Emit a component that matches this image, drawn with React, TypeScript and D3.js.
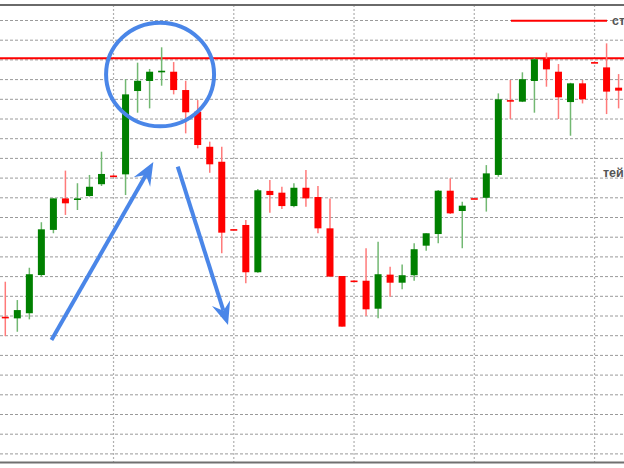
import React from "react";
import * as d3 from "d3";

const W = 624;
const H = 468;

// OHLC values (price points), one candle per index
const opens = [69.6, 68.8, 71.4, 90.8, 113.7, 129.7, 128.9, 130.9, 136.9, 141.3, 141.9, 184.2, 189.3, 193.9, 194.0, 184.7, 173.7, 155.9, 148.3, 114.1, 116.2, 92.2, 133.5, 132.6, 125.8, 135.1, 130.4, 114.5, 90.3, 88.0, 87.9, 73.7, 91.0, 86.9, 90.7, 105.7, 111.6, 133.6, 123.3, 129.8, 130.0, 141.6, 179.6, 178.8, 189.3, 200.5, 194.0, 178.6, 188.1, 198.9, 196.2, 185.9];
const highs = [87.4, 78.1, 94.5, 117.6, 129.7, 143.8, 137.4, 141.6, 153.4, 141.7, 190.2, 198.6, 195.4, 206.4, 198.9, 189.4, 179.6, 158.5, 155.9, 114.2, 118.7, 134.5, 139.0, 135.6, 137.4, 144.1, 136.0, 129.7, 90.3, 88.1, 104.4, 107.7, 95.0, 96.2, 106.9, 112.0, 134.0, 139.9, 128.0, 129.9, 146.6, 183.0, 189.8, 193.7, 200.8, 203.7, 197.9, 188.4, 189.8, 199.1, 208.4, 192.8];
const lows = [59.8, 62.0, 68.3, 89.9, 112.0, 121.3, 123.8, 130.6, 136.0, 140.8, 131.4, 173.2, 175.4, 186.9, 182.5, 162.7, 155.1, 142.7, 101.8, 113.8, 86.6, 92.0, 122.4, 124.3, 125.2, 125.5, 112.0, 89.9, 64.6, 87.7, 70.0, 68.8, 79.8, 83.6, 87.9, 103.1, 106.9, 121.8, 104.4, 129.5, 123.0, 140.7, 170.0, 178.6, 173.2, 186.4, 170.0, 161.5, 177.9, 198.5, 172.5, 175.4];
const closes = [69.1, 73.0, 91.2, 114.0, 129.7, 127.2, 129.7, 135.6, 142.1, 141.1, 182.5, 189.4, 194.0, 194.5, 184.7, 173.4, 156.8, 147.0, 112.3, 113.9, 92.2, 133.8, 131.4, 125.8, 135.1, 129.7, 114.5, 90.0, 64.6, 87.8, 73.4, 91.2, 86.9, 90.7, 103.9, 112.0, 133.6, 122.1, 126.0, 129.6, 142.4, 180.0, 179.0, 190.2, 200.3, 195.2, 181.0, 188.1, 180.0, 198.7, 183.9, 184.4];

const gridLevels = d3.range(0, 221, 10);
const vGridIndices = [9, 19, 29, 39, 49];
const stopLevel = 200.8;
const legendLabels = ["стоп-лосс", "тейк-профит"];

// annotations in data coordinates (candle index, price)
const circleCenter = { i: 12.87, p: 192.6 };
const circleRadius = { i: 4.49, p: 26.3 };
const arrowUp = { from: { i: 3.84, p: 57.8 }, to: { i: 12.31, p: 148.2 } };
const arrowDown = { from: { i: 14.34, p: 145.8 }, to: { i: 18.52, p: 65.4 } };

const x = d3.scaleLinear().domain([0, 51]).range([5.3, 618.6]);
const y = d3.scaleLinear().domain([0, 220]).range([453.9, 20.5]);

const GREEN = "#008000";
const RED = "#ff0000";
const BLUE = "#4a86e8";

function arrowPath(a: { from: { i: number; p: number }; to: { i: number; p: number } }) {
  const x0 = x(a.from.i), y0 = y(a.from.p);
  const x1 = x(a.to.i), y1 = y(a.to.p);
  const dx = x1 - x0, dy = y1 - y0;
  const len = Math.hypot(dx, dy);
  const ux = dx / len, uy = dy / len;
  const nx = -uy, ny = ux;
  const back = 23, half = 9.5, notch = 15;
  const bx = x1 - back * ux, by = y1 - back * uy;
  const head = d3.path();
  head.moveTo(x1, y1);
  head.lineTo(bx + half * nx, by + half * ny);
  head.lineTo(x1 - notch * ux, y1 - notch * uy);
  head.lineTo(bx - half * nx, by - half * ny);
  head.closePath();
  return {
    line: { x1: x0, y1: y0, x2: x1 - notch * ux, y2: y1 - notch * uy },
    head: head.toString(),
  };
}

export default function App() {
  const up = arrowPath(arrowUp);
  const down = arrowPath(arrowDown);
  return (
    <svg
      width={W}
      height={H}
      style={{ position: "fixed", left: 0, top: 0, background: "#fff" }}
      fontFamily="'Liberation Sans', Arial, sans-serif"
    >
      <rect width={W} height={H} fill="#fff" />
      {/* grid */}
      {gridLevels.map((g) => (
        <line key={"h" + g} x1={0} x2={W} y1={y(g)} y2={y(g)} stroke="#9a9a9a" strokeWidth={1} strokeDasharray="3,2" />
      ))}
      {vGridIndices.map((vi) => (
        <line key={"v" + vi} x1={x(vi)} x2={x(vi)} y1={5} y2={463} stroke="#b0b0b0" strokeWidth={1.2} strokeDasharray="2,2" />
      ))}
      {/* frame */}
      <rect x={0} y={4} width={W} height={2} fill="#6a6a6a" />
      <rect x={0} y={461.5} width={W} height={2} fill="#707070" />

      {/* stop line */}
      <line x1={0} x2={W} y1={y(stopLevel)} y2={y(stopLevel)} stroke={RED} strokeWidth={2} />

      {/* candles */}
      {opens.map((o, i) => {
        const c = closes[i];
        const up = c >= o;
        const top = y(Math.max(o, c));
        const bot = y(Math.min(o, c));
        const h = Math.max(1.6, bot - top);
        const cx = x(i);
        return (
          <g key={i}>
            <line x1={cx} x2={cx} y1={y(highs[i])} y2={y(lows[i])} stroke={up ? "#72b872" : "#ff7a7a"} strokeWidth={1.5} />
            <rect x={cx - 3.5} y={top} width={7} height={h} fill={up ? GREEN : RED} />
          </g>
        );
      })}

      {/* annotations */}
      <ellipse
        cx={x(circleCenter.i)}
        cy={y(circleCenter.p)}
        rx={x(circleRadius.i) - x(0)}
        ry={y(0) - y(circleRadius.p)}
        fill="none"
        stroke={BLUE}
        strokeWidth={4}
      />
      <line {...up.line} stroke={BLUE} strokeWidth={4} />
      <path d={up.head} fill={BLUE} />
      <line {...down.line} stroke={BLUE} strokeWidth={4} />
      <path d={down.head} fill={BLUE} />

      {/* legend */}
      <line x1={511} x2={607} y1={20.7} y2={20.7} stroke={RED} strokeWidth={2} />
      <text x={612} y={24.5} fontSize={12.5} fontWeight="bold" fill="#555">{legendLabels[0]}</text>
      <text x={603} y={177} fontSize={12.5} fontWeight="bold" fill="#555">{legendLabels[1]}</text>
    </svg>
  );
}
